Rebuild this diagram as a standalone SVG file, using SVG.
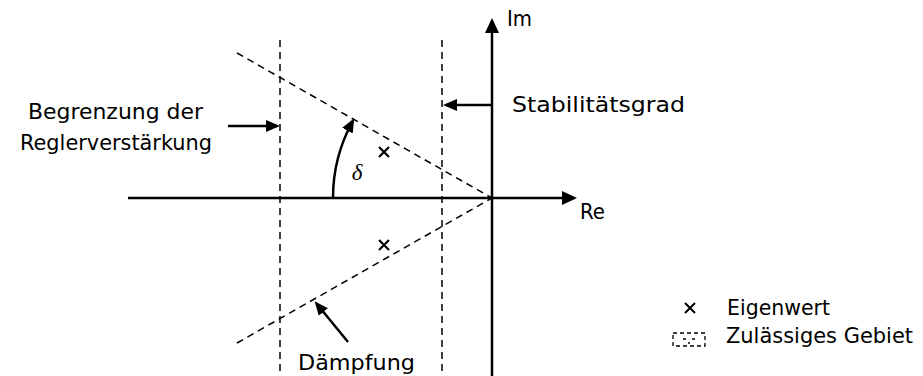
<svg xmlns="http://www.w3.org/2000/svg" width="923" height="376" viewBox="0 0 923 376">
<style>
.t{font-family:"DejaVu Sans","Noto Sans","Liberation Sans",sans-serif;font-size:22px;fill:#000}
.axis{stroke:#000;stroke-width:2.5;fill:none}
.dash{stroke:#000;stroke-width:1.5;stroke-dasharray:7 5;fill:none}
.arr{stroke:#000;stroke-width:2.5;fill:none}
.x{stroke:#000;stroke-width:2.2}
</style>
<defs>
<marker id="ah" markerUnits="userSpaceOnUse" markerWidth="16" markerHeight="14" refX="12" refY="7" orient="auto">
<path d="M0,0 L15,7 L0,14 z" fill="#000"/>
</marker>
<marker id="ahs" markerUnits="userSpaceOnUse" markerWidth="14" markerHeight="12" refX="11" refY="6" orient="auto">
<path d="M0,0 L14,6 L0,12 z" fill="#000"/>
</marker>
</defs>
<g id="region">
<line class="dash" x1="280" y1="40" x2="280" y2="376"/>
<line class="dash" x1="442" y1="40" x2="442" y2="376"/>
<line class="dash" x1="237" y1="53" x2="492" y2="198"/>
<line class="dash" x1="237" y1="343" x2="492" y2="198"/>
</g>
<g id="axes">
<line class="axis" x1="128" y1="198" x2="574" y2="198" marker-end="url(#ah)"/>
<line class="axis" x1="492" y1="376" x2="492" y2="21" marker-end="url(#ah)"/>
<text class="t" x="580" y="219" textLength="25" lengthAdjust="spacingAndGlyphs">Re</text>
<text class="t" x="507" y="26" textLength="25" lengthAdjust="spacingAndGlyphs">Im</text>
</g>
<g id="connectors">
<line class="arr" x1="492" y1="105" x2="446" y2="105" marker-end="url(#ahs)"/>
<line class="arr" x1="228" y1="126" x2="277" y2="126" marker-end="url(#ahs)"/>
<line class="arr" x1="348" y1="342" x2="316.5" y2="303.5" marker-end="url(#ahs)"/>
<path class="arr" d="M333,198 A159,159 0 0,1 352.8,121" marker-end="url(#ahs)"/>
</g>
<g id="angle">
<text x="357" y="180" text-anchor="middle" style="font-family:'Liberation Serif','DejaVu Serif',serif;font-style:italic;font-size:23px">δ</text>
</g>
<g id="eigenvalues">
<path class="x" d="M379,147 L389,157 M389,147 L379,157"/>
<path class="x" d="M379,240 L389,250 M389,240 L379,250"/>
</g>
<g id="label-stabilitaet">
<text class="t" x="512" y="112" textLength="173" lengthAdjust="spacingAndGlyphs">Stabilitätsgrad</text>
</g>
<g id="label-begrenzung">
<text class="t" x="28" y="119" textLength="175" lengthAdjust="spacingAndGlyphs">Begrenzung der</text>
<text class="t" x="20" y="150" textLength="192" lengthAdjust="spacingAndGlyphs">Reglerverstärkung</text>
</g>
<g id="label-daempfung">
<text class="t" x="298" y="370" textLength="117" lengthAdjust="spacingAndGlyphs">Dämpfung</text>
</g>
<g id="legend">
<path class="x" d="M685,303 L695,313 M695,303 L685,313" style="stroke-width:2"/>
<text class="t" x="727" y="315" textLength="103" lengthAdjust="spacingAndGlyphs">Eigenwert</text>
<rect x="673" y="333" width="32" height="13" fill="none" stroke="#000" stroke-width="1.3" stroke-dasharray="4 3"/>
<path d="M683,339 L686,339 M692,339 L695,339 M688,343 L690,343" stroke="#000" stroke-width="1.3"/>
<text class="t" x="726" y="343" textLength="187" lengthAdjust="spacingAndGlyphs">Zulässiges Gebiet</text>
</g>
</svg>
